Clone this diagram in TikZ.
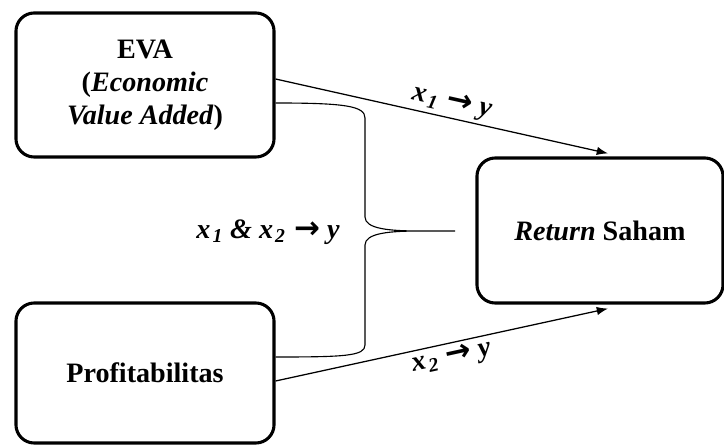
\documentclass[tikz,border=0pt]{standalone}
\usepackage{fontspec}
\setmainfont{Liberation Serif}
\newfontfamily\arrowfont{DejaVu Sans}
\usetikzlibrary{arrows.meta,calc}
\newcommand{\ra}{\hspace{6pt}{\arrowfont\bfseries\upshape\fontsize{22}{22}\selectfont →}\hspace{5pt}}
\newcommand{\xs}[1]{x\kern1.5pt\textsubscript{#1}}

\begin{document}
\begin{tikzpicture}[x=0.025cm,y=-0.025cm,
  box/.style={draw,line width=2.2pt,rounded corners=13pt,align=center,inner sep=0pt,font=\fontsize{20}{23.5}\selectfont\bfseries},
  lbl/.style={font=\fontsize{20}{24}\selectfont\bfseries\itshape,inner sep=2pt},
  link/.style={line width=0.9pt,-{Latex[length=8pt,width=6pt]}},
  brace/.style={line width=0.8pt}]
\useasboundingbox (0,0) rectangle (724,445);
\node[box,minimum width=6.45cm,minimum height=3.6cm] (eva) at (145,85) {EVA\\(\textit{Economic}\\\textit{Value Added})};
\node[box,minimum width=6.45cm,minimum height=3.5cm] (prof) at (145,373) {Profitabilitas};
\node[box,minimum width=6.15cm,minimum height=3.625cm] (ret) at (600,230.5) {\textit{Return} Saham};
\coordinate (tip) at (455,231);
\draw[link] ($(eva.east)+(0,-6)$) -- node[lbl,sloped,above,pos=0.52] {\xs{1}\ra y} ($(ret.north)+(8,-3)$);
\draw[link] ($(prof.east)+(0,8)$) -- node[lbl,sloped,below,pos=0.52] {\xs{2}\ra y} ($(ret.south)+(8,4)$);
\draw[brace] ($(eva.east)+(0,18)$) .. controls (345,103) and (365,106) .. (365,118) -- (365,217)
  .. controls (365,229) and (390,231) .. (420,231) -- (tip) -- (420,231)
  .. controls (390,231) and (365,233) .. (365,245) -- (365,345)
  .. controls (365,356) and (345,357) .. ($(prof.east)+(0,-16)$);
\node[lbl] (both) at (268,232) {\xs{1} \& \xs{2}\ra y};
\end{tikzpicture}
\end{document}
